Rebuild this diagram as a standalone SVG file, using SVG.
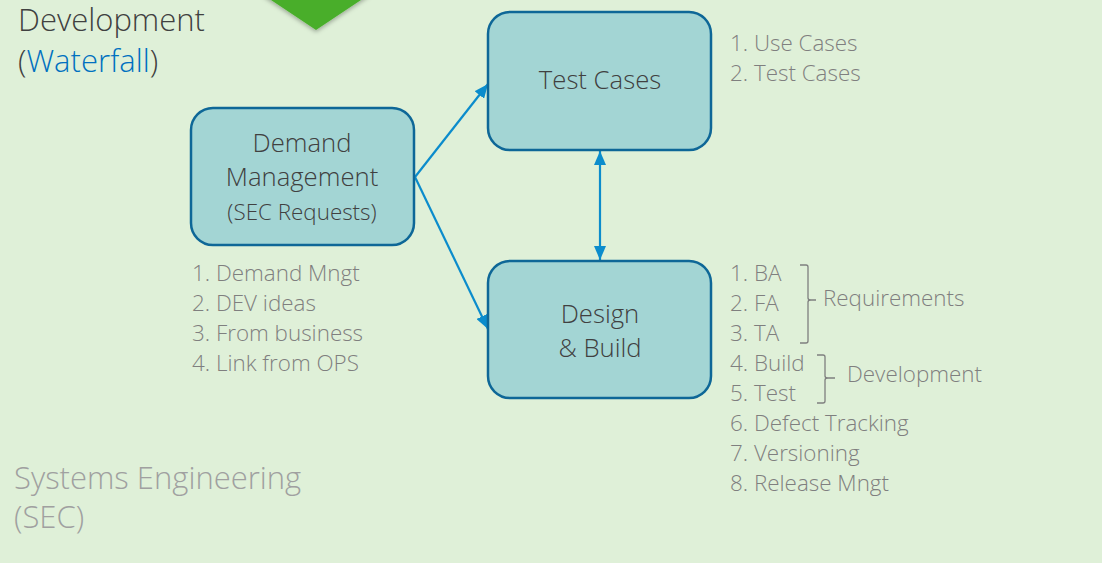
<svg xmlns="http://www.w3.org/2000/svg" width="1102" height="563" viewBox="0 0 1102 563">
<style>
text{font-weight:300}
.box{fill:#a3d5d4;stroke:#0e6797;stroke-width:2.5}
.lbl{font-family:"Open Sans","Liberation Sans",sans-serif;fill:#404040;text-anchor:middle;font-size:25.7px}
.lst{font-family:"Open Sans","Liberation Sans",sans-serif;fill:#7f7f7f;font-size:22.4px}
.hd{font-family:"Open Sans","Liberation Sans",sans-serif;font-size:31px}
.conn{stroke:#0b8ccc;stroke-width:2.2;fill:none}
.br{stroke:#7f7f7f;stroke-width:1.3;fill:none}
</style>
<defs>
<marker id="ah" viewBox="0 0 14 12" refX="14" refY="6" markerWidth="14" markerHeight="12" markerUnits="userSpaceOnUse" orient="auto-start-reverse">
<path d="M0,0 L14,6 L0,12 Z" fill="#0b8ccc"/>
</marker>
<filter id="sh" x="-20%" y="-20%" width="140%" height="160%">
<feDropShadow dx="0" dy="2" stdDeviation="2" flood-color="#000" flood-opacity="0.3"/>
</filter>
</defs>
<rect width="1102" height="563" fill="#dff0d8"/>
<polygon points="262,-6 370,-6 316,30" fill="#48ae2a" filter="url(#sh)"/>
<text class="hd" x="18" y="31" fill="#404040">Development</text>
<text class="hd" x="18" y="72" fill="#404040">(<tspan fill="#0070c0">Waterfall</tspan>)</text>
<text class="hd" x="14" y="489" fill="#a0a0a0">Systems Engineering</text>
<text class="hd" x="14" y="528" fill="#a0a0a0">(SEC)</text>
<g id="connectors">
<line class="conn" x1="415" y1="177" x2="488" y2="84" marker-end="url(#ah)"/>
<line class="conn" x1="415" y1="177" x2="488" y2="329" marker-end="url(#ah)"/>
<line class="conn" x1="600" y1="151" x2="600" y2="260" marker-start="url(#ah)" marker-end="url(#ah)"/>
</g>
<g id="demand">
<rect class="box" x="191" y="108" width="223" height="137" rx="22"/>
<text class="lbl" x="302" y="152">Demand</text>
<text class="lbl" x="302" y="186">Management</text>
<text class="lbl" x="302" y="220" style="font-size:22.4px">(SEC Requests)</text>
</g>
<g id="testcases">
<rect class="box" x="488" y="12" width="223" height="138" rx="22"/>
<text class="lbl" x="600" y="89">Test Cases</text>
</g>
<g id="design">
<rect class="box" x="488" y="261" width="223" height="137" rx="22"/>
<text class="lbl" x="600" y="323">Design</text>
<text class="lbl" x="600" y="357">&amp; Build</text>
</g>
<g id="demand-list" class="lst">
<text x="192" y="281">1. Demand Mngt</text>
<text x="192" y="311">2. DEV ideas</text>
<text x="192" y="341">3. From business</text>
<text x="192" y="371">4. Link from OPS</text>
</g>
<g id="test-list" class="lst">
<text x="730" y="51">1. Use Cases</text>
<text x="730" y="81">2. Test Cases</text>
</g>
<g id="design-list" class="lst">
<text x="730" y="281">1. BA</text>
<text x="730" y="311">2. FA</text>
<text x="730" y="341">3. TA</text>
<text x="730" y="371">4. Build</text>
<text x="730" y="401">5. Test</text>
<text x="730" y="431">6. Defect Tracking</text>
<text x="730" y="461">7. Versioning</text>
<text x="730" y="491">8. Release Mngt</text>
<text x="823" y="306">Requirements</text>
<text x="847" y="382">Development</text>
<path class="br" d="M800,265 L806,265 Q808,265 808,267 L808,298 Q808,300 811,300 L816,300 M811,300 Q808,300 808,302 L808,341 Q808,343 806,343 L800,343"/>
<path class="br" d="M817,355 L823,355 Q825,355 825,357 L825,376 Q825,378 828,378 L835,378 M828,378 Q825,378 825,380 L825,401 Q825,403 823,403 L817,403"/>
</g>
</svg>
